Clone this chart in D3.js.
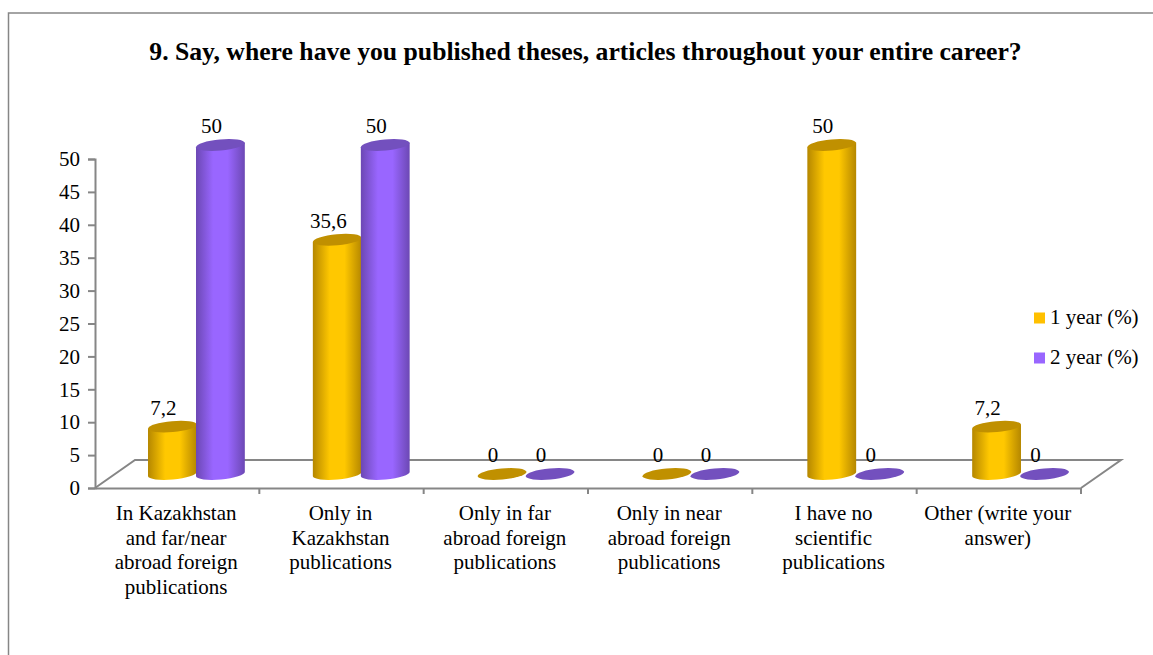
<!DOCTYPE html>
<html>
<head>
<meta charset="utf-8">
<script src="https://cdn.jsdelivr.net/npm/d3@7"></script>
<style>
    html, body { margin: 0; padding: 0; background: #fff; overflow: hidden; }
    text { font-family: "Liberation Serif", serif; fill: #000; }
</style>
</head>
<body>
<div id="chart"></div>
<script>
// Data
var titleText = "9. Say, where have you published theses, articles throughout your entire career?";
var categories = [
    ["In Kazakhstan", "and far/near", "abroad foreign", "publications"],
    ["Only in", "Kazakhstan", "publications"],
    ["Only in far", "abroad foreign", "publications"],
    ["Only in near", "abroad foreign", "publications"],
    ["I have no", "scientific", "publications"],
    ["Other (write your", "answer)"]
];
var seriesNames = ["1 year (%)", "2 year (%)"];
var year1 = [7.2, 35.6, 0, 0, 50, 7.2];
var year2 = [50, 50, 0, 0, 0, 0];
var yTicks = [0, 5, 10, 15, 20, 25, 30, 35, 40, 45, 50];

// Sizes
var width = 1153;
var height = 655;
var depthX = 40;
var depthY = 28;
var rx = 24.5;
var ry = 5.5;
var tilt = -5;
var fontSize = 21;
var axisGray = "#868686";

var svg = d3.select("#chart")
    .append("svg")
    .attr("width", width)
    .attr("height", height)
    .style("display", "block");

// Outer frame, cut off by the picture on the right and bottom
svg.append("path")
    .attr("d", "M8.5,655V13H1153")
    .attr("fill", "none")
    .attr("stroke", axisGray)
    .attr("stroke-width", 1.5);

svg.append("text")
    .attr("x", 585.5)
    .attr("y", 60)
    .attr("text-anchor", "middle")
    .attr("font-size", 25.7)
    .attr("font-weight", "bold")
    .text(titleText);

// Scales
var xScale = d3.scaleBand()
    .domain(d3.range(categories.length))
    .range([95, 1081]);
// The cylinders are spaced a touch wider than the axis ticks
var barScale = d3.scaleBand()
    .domain(d3.range(categories.length))
    .range([94, 1083]);
var seriesScale = d3.scaleBand()
    .domain([0, 1])
    .range([-48, 48]);
var yScale = d3.scaleLinear()
    .domain([0, 50])
    .range([488, 159]);

// Gradients for the cylinder bodies
var colors = [
    { edge: "#b58700", mid: "#ffc800", top: "#c09000", key: "#ffc000" },
    { edge: "#6c48b4", mid: "#9966ff", top: "#7350be", key: "#9966ff" }
];
var defs = svg.append("defs");
colors.forEach(function(c, i) {
    var grad = defs.append("linearGradient").attr("id", "body" + i);
    grad.append("stop").attr("offset", "0%").attr("stop-color", c.edge);
    grad.append("stop").attr("offset", "35%").attr("stop-color", c.mid);
    grad.append("stop").attr("offset", "65%").attr("stop-color", c.mid);
    grad.append("stop").attr("offset", "100%").attr("stop-color", c.edge);
});

// Floor of the 3D plot
var x0 = xScale.range()[0];
var x1 = xScale.range()[1];
var y0 = yScale(0);
svg.append("path")
    .attr("d", "M" + x0 + "," + y0 +
        "L" + (x0 + depthX) + "," + (y0 - depthY) +
        "H" + (x1 + depthX) +
        "L" + x1 + "," + y0)
    .attr("fill", "none")
    .attr("stroke", axisGray)
    .attr("stroke-width", 2);

// Axes
var yAxis = d3.axisLeft(yScale).tickValues(yTicks).tickSize(7).tickPadding(8);
var yG = svg.append("g")
    .attr("transform", "translate(" + x0 + ",0)")
    .call(yAxis);
yG.selectAll("text").attr("font-size", fontSize).attr("dy", "0.32em");

var xAxis = d3.axisBottom(xScale).tickValues([]).tickSize(0);
var xG = svg.append("g")
    .attr("transform", "translate(0," + y0 + ")")
    .call(xAxis);

// Ticks sit on the band edges, not the centres
xG.selectAll(".edge")
    .data(d3.range(1, categories.length + 1))
    .enter()
    .append("line")
    .attr("class", "edge")
    .attr("x1", function(d) { return xScale.step() * d + x0; })
    .attr("x2", function(d) { return xScale.step() * d + x0; })
    .attr("y1", 0)
    .attr("y2", 6)
    .attr("stroke", axisGray)
    .attr("stroke-width", 2);

svg.selectAll(".domain, .tick line")
    .attr("stroke", axisGray)
    .attr("stroke-width", 2);

// Category labels
categories.forEach(function(lines, i) {
    lines.forEach(function(line, j) {
        svg.append("text")
            .attr("x", xScale(i) + xScale.bandwidth() / 2 - 1)
            .attr("y", 520 + j * 24.7)
            .attr("text-anchor", "middle")
            .attr("font-size", fontSize)
            .text(line);
    });
});

// Cylinders
function barCenter(cat, s) {
    return barScale(cat) + barScale.bandwidth() / 2 + depthX / 2 +
        seriesScale(s) + seriesScale.bandwidth() / 2;
}

var dx = rx * Math.cos(tilt * Math.PI / 180);
var dy = rx * Math.sin(tilt * Math.PI / 180);

function drawBar(value, cat, s) {
    var cx = barCenter(cat, s);
    var base = yScale(0) - depthY / 2;
    var top = yScale(value) - depthY / 2;
    if (value > 0) {
        svg.append("path")
            .attr("d", "M" + (cx - dx) + "," + (top - dy) +
                "L" + (cx - dx) + "," + (base - dy) +
                "A" + rx + "," + ry + "," + tilt + ",0,0," + (cx + dx) + "," + (base + dy) +
                "L" + (cx + dx) + "," + (top + dy) + "Z")
            .attr("fill", "url(#body" + s + ")");
    }
    svg.append("ellipse")
        .attr("rx", rx)
        .attr("ry", ry)
        .attr("transform", "translate(" + cx + "," + top + ")rotate(" + tilt + ")")
        .attr("fill", colors[s].top);
}

[year1, year2].forEach(function(values, s) {
    values.forEach(function(v, i) { drawBar(v, i, s); });
});

// Value labels go on last so they stay above the floor line
[year1, year2].forEach(function(values, s) {
    values.forEach(function(v, i) {
        svg.append("text")
            .attr("x", barCenter(i, s) - 9)
            .attr("y", yScale(v) - depthY / 2 - 12)
            .attr("text-anchor", "middle")
            .attr("font-size", fontSize)
            .text(String(v).replace(".", ","));
    });
});

// Legend
var legendY = d3.scalePoint().domain([0, 1]).range([318, 358]);
seriesNames.forEach(function(name, s) {
    svg.append("rect")
        .attr("x", 1034)
        .attr("y", legendY(s) - 5.5)
        .attr("width", 11)
        .attr("height", 11)
        .attr("fill", colors[s].key);
    svg.append("text")
        .attr("x", 1050)
        .attr("y", legendY(s) + 6)
        .attr("font-size", fontSize)
        .text(name);
});
</script>
</body>
</html>
